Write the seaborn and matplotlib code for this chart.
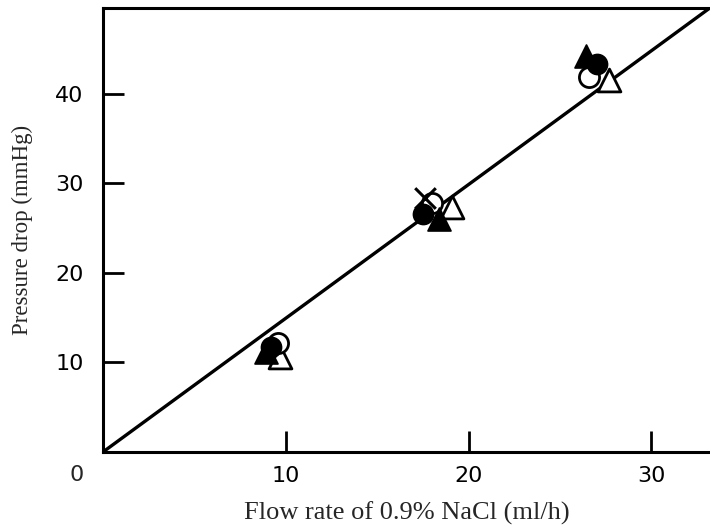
import matplotlib
matplotlib.use('Agg')
import matplotlib.pyplot as plt
import numpy as np
import pandas as pd
import seaborn as sns

sns.set_style("white")
plt.rcParams['font.family'] = ['DejaVu Sans']

# data
filled_circle_x = [9.2, 17.5, 27.0]
filled_circle_y = [11.7, 26.6, 43.3]
open_circle_x = [9.6, 18.0, 26.6]
open_circle_y = [12.2, 27.8, 41.9]
filled_tri_x = [8.9, 18.4, 26.4]
filled_tri_y = [11.2, 26.0, 44.2]
open_tri_x = [9.7, 19.1, 27.7]
open_tri_y = [10.6, 27.4, 41.6]
cross_x = [17.6]
cross_y = [28.4]

fit_x = [0, 33.2]
fit_y = [0, 49.6]

x_ticks = [10, 20, 30]
y_ticks = [10, 20, 30, 40]

fig = plt.figure(figsize=(7.1, 5.25), dpi=100)
ax = fig.add_axes([0.145, 0.139, 0.855, 0.846])

sns.lineplot(x=fit_x, y=fit_y, ax=ax, color='black', linewidth=2.4)

sns.scatterplot(x=open_tri_x, y=open_tri_y, ax=ax, marker='^', s=270,
                facecolor='white', edgecolor='black', linewidth=2.0, zorder=3)
sns.scatterplot(x=open_circle_x, y=open_circle_y, ax=ax, marker='o', s=210,
                facecolor='white', edgecolor='black', linewidth=2.0, zorder=3)
sns.scatterplot(x=cross_x, y=cross_y, ax=ax, marker='x', s=220,
                color='black', linewidth=2.2, zorder=3)
sns.scatterplot(x=filled_tri_x, y=filled_tri_y, ax=ax, marker='^', s=270,
                color='black', edgecolor='black', zorder=4)
sns.scatterplot(x=filled_circle_x, y=filled_circle_y, ax=ax, marker='o', s=210,
                color='black', edgecolor='black', zorder=4)

ax.set_xlim(0, 33.2)
ax.set_ylim(0, 49.6)
ax.set_xticks(x_ticks)
ax.set_yticks(y_ticks)
ax.tick_params(bottom=True, left=True, direction='in', length=15, width=2,
               labelsize=16, colors='black')
ax.tick_params(axis='x', pad=10)
ax.tick_params(axis='y', pad=14)

for side in ['left', 'bottom', 'top']:
    ax.spines[side].set_linewidth(2.2)
    ax.spines[side].set_color('black')
ax.spines['right'].set_visible(False)

ax.set_xlabel("Flow rate of 0.9% NaCl (ml/h)", fontfamily='Liberation Serif',
              fontsize=19, labelpad=11)
ax.set_ylabel("Pressure drop (mmHg)", fontfamily='Liberation Serif',
              fontsize=16.5, labelpad=16)

# origin label
ax.text(-0.043, -0.052, "0", transform=ax.transAxes, fontsize=16,
        ha='center', va='center')

fig.savefig("out.png", dpi=100)
plt.close(fig)
